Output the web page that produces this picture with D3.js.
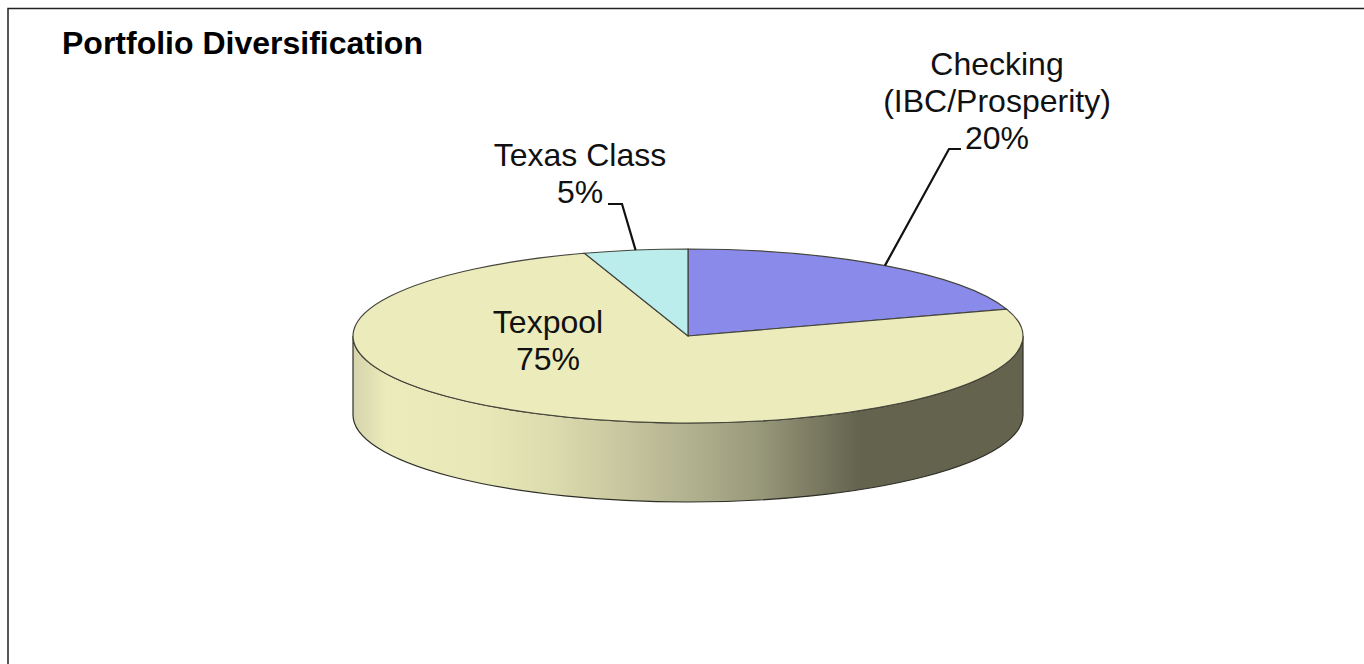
<!DOCTYPE html>
<html>
<head>
<meta charset="utf-8">
<script src="https://cdn.jsdelivr.net/npm/d3@7"></script>
<style>
  html, body { margin: 0; padding: 0; background: #fff; overflow: hidden; }
  text { font-family: "Liberation Sans", Arial, sans-serif; fill: #111; }
</style>
</head>
<body>
<div id="chart"></div>
<script>
const categories = ['Checking', 'Texpool', 'Texas Class'];
const shares = [20, 75, 5];
const labelLines = [['Checking', '(IBC/Prosperity)', '20%'], ['Texpool', '75%'], ['Texas Class', '5%']];
const sliceColors = ['#8a8aea', '#ecebbb', '#bceded'];

// side wall shading, left to right
const wallOffsets = [0, 0.05, 0.2, 0.3, 0.5, 0.6, 0.755, 1];
const wallColors = ['#d4d3ab', '#ecebbb', '#e8e7b7', '#dcdbae', '#b3b290', '#9a9a7c', '#64634e', '#64634e'];

const width = 1364;
const height = 664;
const cx = 688;
const cy = 336;
const rx = 335;
const ry = 87;
const depth = 79;
const squash = ry / rx;

const svg = d3.select('#chart')
  .append('svg')
  .attr('width', width)
  .attr('height', height)
  .attr('viewBox', `0 0 ${width} ${height}`)
  .style('display', 'block');

// frame: only top and left edges are in the picture
svg.append('path')
  .attr('d', `M8,${height}V8.5H${width}`)
  .attr('fill', 'none')
  .attr('stroke', '#222')
  .attr('stroke-width', 1.5);

svg.append('text')
  .attr('x', 62)
  .attr('y', 54)
  .style('font-size', '32px')
  .style('font-weight', 'bold')
  .style('fill', '#000')
  .text('Portfolio Diversification');

const grad = svg.append('defs')
  .append('linearGradient')
  .attr('id', 'wall')
  .attr('gradientUnits', 'userSpaceOnUse')
  .attr('x1', -rx).attr('x2', rx)
  .attr('y1', 0).attr('y2', 0);

grad.selectAll('stop')
  .data(wallOffsets)
  .join('stop')
  .attr('offset', d => d)
  .attr('stop-color', (d, i) => wallColors[i]);

// everything in here is a flat circle squashed into an ellipse
const disc = svg.append('g')
  .attr('transform', `translate(${cx},${cy}) scale(1,${squash})`);

const wallDepth = depth / squash;
const wall = d3.path();
wall.moveTo(rx, 0);
wall.lineTo(rx, wallDepth);
wall.arc(0, wallDepth, rx, 0, Math.PI);
wall.lineTo(-rx, 0);
wall.arc(0, 0, rx, Math.PI, 0, true);
wall.closePath();

disc.append('path')
  .attr('d', wall.toString())
  .attr('fill', 'url(#wall)')
  .attr('stroke', '#2e2e26')
  .attr('stroke-width', 1.2)
  .attr('vector-effect', 'non-scaling-stroke');

const pie = d3.pie().sort(null).value(d => d);
const arcs = pie(shares);
const arc = d3.arc().innerRadius(0).outerRadius(rx);

disc.selectAll('path.slice')
  .data(arcs)
  .join('path')
  .attr('class', 'slice')
  .attr('d', arc)
  .attr('fill', (d, i) => sliceColors[i])
  .attr('stroke', '#44443c')
  .attr('stroke-width', 1.2)
  .attr('vector-effect', 'non-scaling-stroke');

// leader lines start on the rim at the middle of the slice
function rimPoint(d) {
  const a = (d.startAngle + d.endAngle) / 2;
  return [cx + rx * Math.sin(a), cy - ry * Math.cos(a)];
}

const leaders = [
  { index: 0, bend: [949, 149], end: [961, 149] },
  { index: 2, bend: [622, 204], end: [608, 204] }
];

svg.selectAll('path.leader')
  .data(leaders)
  .join('path')
  .attr('class', 'leader')
  .attr('d', d => d3.line()([rimPoint(arcs[d.index]), d.bend, d.end]))
  .attr('fill', 'none')
  .attr('stroke', '#111')
  .attr('stroke-width', 2.2);

const labelSpots = [
  { x: 997, y: 75 },
  { x: 548, y: 333 },
  { x: 580, y: 166 }
];

const labels = svg.selectAll('text.label')
  .data(labelLines)
  .join('text')
  .attr('class', 'label')
  .attr('text-anchor', 'middle')
  .style('font-size', '32px');

labels.selectAll('tspan')
  .data((d, i) => d.map((t, k) => ({ t, k, spot: labelSpots[i] })))
  .join('tspan')
  .attr('x', d => d.spot.x)
  .attr('y', d => d.spot.y + d.k * 37)
  .text(d => d.t);
</script>
</body>
</html>
